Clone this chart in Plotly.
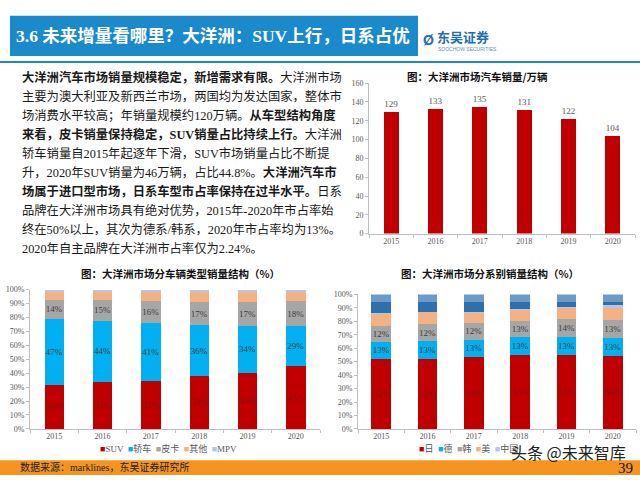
import plotly.graph_objects as go

W, H = 640, 480
def px(x): return x / W
def py(y): return 1 - y / H

SERIF_CJK = "Liberation Serif, Times New Roman, Noto Sans CJK SC"
CJK = "Noto Sans CJK SC, Liberation Serif"

# ---------------- data ----------------
years = ["2015", "2016", "2017", "2018", "2019", "2020"]
sales = [129, 133, 135, 131, 122, 104]  # 万辆

type_names = ["SUV", "轿车", "皮卡", "其他", "MPV"]
type_suv = [31.8, 33.6, 34.7, 38.1, 40.3, 44.8]
type_sedan = [46.9, 43.9, 41.2, 36.2, 33.8, 29.0]
type_pickup = [14.1, 15.0, 16.0, 17.0, 17.1, 18.0]
type_other = [6.2, 6.5, 7.1, 7.7, 7.8, 7.2]
type_mpv = [1.0, 1.0, 1.0, 1.0, 1.0, 1.0]
type_colors = ["#C00000", "#00B0F0", "#A6A6A6", "#F4B183", "#B4C7E7"]
type_label_colors = ["#8B1010", "#404040", "#404040", None, None]

brand_names = ["日", "德", "韩", "美", "中国", "法", "其他"]
brand_jp = [51.7, 52.2, 53.4, 55.0, 54.6, 54.3]
brand_de = [13.3, 13.3, 12.9, 13.0, 13.4, 13.4]
brand_kr = [11.7, 12.2, 12.3, 12.6, 13.6, 13.2]
brand_us = [9.0, 9.0, 8.0, 8.0, 8.4, 9.2]
brand_cn = [0.3, 0.3, 0.4, 0.6, 0.8, 2.2]
brand_fr = [8.7, 7.7, 7.7, 5.5, 3.9, 2.4]
brand_oth = [5.3, 5.3, 5.3, 5.3, 5.3, 5.3]
brand_colors = ["#C00000", "#00B0F0", "#A6A6A6", "#F4B183", "#B4C7E7", "#2E6FAE", "#6C9BC9"]
brand_label_colors = ["#8B1010", "#404040", "#404040", None, None, None, None]
brand_legend_visible = 5  # the rest is hidden under the watermark in the source

text_lines = [
    "<b>大洋洲汽车市场销量规模稳定，新增需求有限。</b>大洋洲市场",
    "主要为澳大利亚及新西兰市场，两国均为发达国家，整体市",
    "场消费水平较高；年销量规模约120万辆。<b>从车型结构角度</b>",
    "<b>来看，皮卡销量保持稳定，SUV销量占比持续上行。</b>大洋洲",
    "轿车销量自2015年起逐年下滑，SUV市场销量占比不断提",
    "升，2020年SUV销量为46万辆，占比44.8%。<b>大洋洲汽车市</b>",
    "<b>场属于进口型市场，日系车型市占率保持在过半水平。</b>日系",
    "品牌在大洋洲市场具有绝对优势，2015年-2020年市占率始",
    "终在50%以上，其次为德系/韩系，2020年市占率均为13%。",
    "2020年自主品牌在大洋洲市占率仅为2.24%。",
]

fig = go.Figure()

# ---------- top right: sales ----------
fig.add_trace(go.Bar(
    x=years, y=sales, xaxis="x", yaxis="y", width=0.34,
    marker=dict(color="#C00000", line=dict(width=0)),
    text=[str(v) for v in sales], textposition="outside",
    textfont=dict(family=SERIF_CJK, size=9, color="#595959"),
    cliponaxis=False, showlegend=False,
))

# ---------- bottom left: vehicle type ----------
for name, vals, col, lc in zip(type_names,
                               [type_suv, type_sedan, type_pickup, type_other, type_mpv],
                               type_colors, type_label_colors):
    fig.add_trace(go.Bar(
        x=years, y=vals, xaxis="x2", yaxis="y2", width=0.4, name=name,
        marker=dict(color=col, line=dict(width=0)),
        text=[f"{round(v)}%" for v in vals] if lc else None,
        textposition="inside", insidetextanchor="middle", constraintext="none",
        textangle=0,
        textfont=dict(family=SERIF_CJK, size=9, color=lc or "#404040"),
        showlegend=False,
    ))

# ---------- bottom right: brand ----------
for name, vals, col, lc in zip(brand_names,
                               [brand_jp, brand_de, brand_kr, brand_us, brand_cn, brand_fr, brand_oth],
                               brand_colors, brand_label_colors):
    fig.add_trace(go.Bar(
        x=years, y=vals, xaxis="x3", yaxis="y3", width=0.42, name=name,
        marker=dict(color=col, line=dict(width=0)),
        text=[f"{round(v)}%" for v in vals] if lc else None,
        textposition="inside", insidetextanchor="middle", constraintext="none",
        textangle=0,
        textfont=dict(family=SERIF_CJK, size=9, color=lc or "#404040"),
        showlegend=False,
    ))

axis_common = dict(showline=True, linecolor="#BFBFBF", linewidth=1, ticks="outside",
                   ticklen=3, tickcolor="#BFBFBF", showgrid=False, zeroline=False,
                   tickfont=dict(family=SERIF_CJK, size=8, color="#595959"), fixedrange=True)

xcat = dict(axis_common, type="category", tickson="boundaries")

fig.update_layout(
    width=W, height=H, margin=dict(l=0, r=0, t=0, b=0),
    paper_bgcolor="white", plot_bgcolor="rgba(0,0,0,0)",
    barmode="stack", showlegend=False,
    xaxis=dict(xcat, domain=[px(369), px(635)], anchor="y"),
    yaxis=dict(axis_common, domain=[py(234), py(80.7)], range=[0, 160], dtick=20, anchor="x"),
    xaxis2=dict(xcat, domain=[px(30), px(320)], anchor="y2"),
    yaxis2=dict(axis_common, domain=[py(433), py(291)], range=[0, 100], dtick=10,
                ticksuffix="%", anchor="x2"),
    xaxis3=dict(xcat, domain=[px(358), px(636)], anchor="y3"),
    yaxis3=dict(axis_common, domain=[py(433), py(296)], range=[0, 100], dtick=10,
                ticksuffix="%", anchor="x3"),
)

shapes = [
    dict(type="rect", xref="paper", yref="paper", x0=px(10), x1=px(418), y0=py(53), y1=py(12),
         fillcolor="#1B8ACB", line=dict(width=0), layer="below"),
    dict(type="line", xref="paper", yref="paper", x0=0, x1=1, y0=py(59), y1=py(59),
         line=dict(color="#1B8ACB", width=2)),
    dict(type="rect", xref="paper", yref="paper", x0=0, x1=1, y0=0, y1=py(465),
         fillcolor="#F7941E", line=dict(width=0), layer="below"),
]

ann = []
def A(x, y, text, size, color="#000", family=CJK, xanchor="left", yanchor="middle", **kw):
    ann.append(dict(x=px(x), y=py(y), xref="paper", yref="paper", text=text, showarrow=False,
                    xanchor=xanchor, yanchor=yanchor,
                    font=dict(size=size, color=color, family=family), **kw))

# header
A(14, 33, "<b>3.6 未来增量看哪里？大洋洲：SUV上行，日系占优</b>", 17.5, "white", SERIF_CJK)
A(435, 33, "<b>东吴证券</b>", 13, "#1F6DB5", CJK)
A(436, 46, "SOOCHOW SECURITIES", 5, "#5A8FC8", "Liberation Sans")
A(428, 37, "<b>Ø</b>", 14, "#1F6DB5", "Liberation Sans", xanchor="center")

# left text block
for i, line in enumerate(text_lines):
    A(20, 75 + i * 19.4, line, 12.3, "#1a1a1a", SERIF_CJK)

# chart titles
A(477, 74, "<b>图：大洋洲市场汽车销量/万辆</b>", 10.5, "#111", CJK, xanchor="center")
A(180, 275, "<b>图：大洋洲市场分车辆类型销量结构（%）</b>", 10.5, "#111", CJK, xanchor="center")
A(490, 275, "<b>图：大洋洲市场分系别销量结构（%）</b>", 10.5, "#111", CJK, xanchor="center")

# legends (built from series names and colours)
def legend_text(names, colors):
    return "  ".join(f"<span style='color:{c}'>■</span>{n}" for n, c in zip(names, colors))
A(98, 453, legend_text(type_names, type_colors), 9, "#595959", SERIF_CJK)
A(417, 453, legend_text(brand_names[:brand_legend_visible], brand_colors[:brand_legend_visible]),
  9, "#595959", SERIF_CJK)

# watermark
A(568, 457, "头条 @未来智库", 16, "#222", CJK, xanchor="center", borderpad=0)

# footer
A(18, 472, "数据来源：marklines，东吴证券研究所", 10, "#222", SERIF_CJK)
A(634, 473, "39", 15, "#111", "Liberation Serif", xanchor="right", borderpad=0)

fig.update_layout(shapes=shapes, annotations=ann)
fig.write_html("out.html", config={"displayModeBar": False},
               post_script="document.body.style.margin='0';document.body.style.padding='0';")
